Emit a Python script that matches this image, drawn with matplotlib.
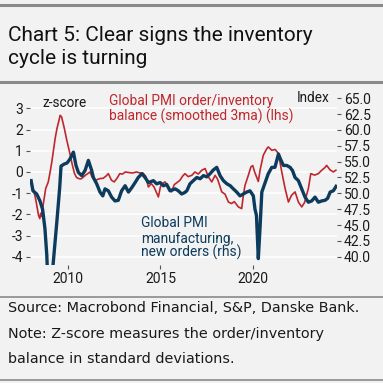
import matplotlib
matplotlib.use("Agg")
import matplotlib.pyplot as plt
from matplotlib.lines import Line2D

plt.rcParams['font.family'] = ['Roboto', 'DejaVu Sans']
plt.rcParams['axes.unicode_minus'] = False

# Global PMI order/inventory balance (z-score, smoothed 3ma), lhs
red_years = [2008.03, 2008.15, 2008.25, 2008.4, 2008.47, 2008.52, 2008.58, 2008.65, 2008.79, 2008.93,
             2009.05, 2009.12, 2009.3, 2009.4, 2009.5, 2009.57, 2009.65, 2009.8, 2009.93, 2010.1,
             2010.2, 2010.34, 2010.45, 2010.56, 2010.7, 2010.83, 2010.95, 2011.19, 2011.3, 2011.46,
             2011.6, 2011.75, 2011.9, 2012.05, 2012.18, 2012.35, 2012.5, 2012.65, 2012.8, 2012.95,
             2013.1, 2013.3, 2013.5, 2013.7, 2013.9, 2014.05, 2014.2, 2014.35, 2014.5, 2014.65,
             2014.89, 2015.0, 2015.1, 2015.25, 2015.4, 2015.6, 2015.75, 2015.9, 2016.06, 2016.2,
             2016.33, 2016.5, 2016.7, 2016.87, 2017.05, 2017.24, 2017.42, 2017.6, 2017.78, 2017.96,
             2018.1, 2018.32, 2018.5, 2018.68, 2018.85, 2019.0, 2019.22, 2019.4, 2019.49, 2019.58,
             2019.76, 2019.9, 2020.0, 2020.1, 2020.3, 2020.4, 2020.57, 2020.76, 2020.84, 2021.03,
             2021.21, 2021.39, 2021.57, 2021.75, 2021.93, 2022.1, 2022.29, 2022.47, 2022.65, 2022.8,
             2023.01, 2023.14, 2023.35, 2023.55, 2023.73, 2023.9, 2024.0, 2024.18, 2024.36, 2024.5]
red_values = [-0.55, -0.9, -1.3, -2.04, -2.2, -1.95, -2.1, -1.57, -0.78, -0.47,
              0.1, 0.47, 1.57, 2.05, 2.4, 2.67, 2.6, 2.05, 1.5, 0.87,
              0.45, -0.05, -0.25, -0.31, -0.33, -0.24, -0.15, 0.0, -0.24, -0.42,
              -0.35, -0.31, -0.3, -0.2, -0.08, -0.39, -0.47, -0.3, -0.08, -0.1,
              0.0, -0.03, -0.05, 0.0, -0.05, -0.05, -0.2, -0.71, -0.55, -0.7,
              -1.18, -0.7, -0.55, -0.47, -0.65, -0.94, -0.6, -0.5, -0.39, -0.2,
              -0.08, -0.22, -0.16, 0.0, -0.1, 0.08, 0.16, -0.24, -0.47, -0.16,
              -0.35, -0.94, -1.05, -1.42, -1.49, -1.4, -1.65, -1.73, -1.1, -0.63,
              -0.16, 0.24, 0.3, 0.0, -0.45, 0.1, 0.79, 1.1, 1.18, 1.02,
              1.06, 0.87, 0.0, -0.78, -1.42, -1.1, -0.94, -1.42, -1.65, -1.45,
              -0.78, -0.08, -0.15, -0.08, 0.08, 0.2, 0.31, 0.1, 0.0, 0.08]

# Global PMI manufacturing, new orders (index), rhs
blue_years = [2008.0, 2008.1, 2008.3, 2008.48, 2008.62, 2008.75, 2008.85, 2008.92, 2009.0, 2009.1,
              2009.2, 2009.39, 2009.55, 2009.62, 2009.78, 2009.95, 2010.1, 2010.29, 2010.43, 2010.56,
              2010.74, 2010.92, 2011.1, 2011.28, 2011.37, 2011.55, 2011.73, 2011.88, 2012.0, 2012.18,
              2012.36, 2012.54, 2012.72, 2012.9, 2013.09, 2013.27, 2013.45, 2013.63, 2013.8, 2014.0,
              2014.17, 2014.35, 2014.62, 2014.8, 2014.98, 2015.16, 2015.34, 2015.52, 2015.8, 2015.97,
              2016.15, 2016.3, 2016.43, 2016.6, 2016.78, 2016.97, 2017.15, 2017.33, 2017.51, 2017.69,
              2017.87, 2018.05, 2018.23, 2018.41, 2018.6, 2018.78, 2018.95, 2019.13, 2019.31, 2019.49,
              2019.67, 2019.85, 2020.03, 2020.12, 2020.2, 2020.3, 2020.39, 2020.49, 2020.67, 2020.84,
              2021.03, 2021.2, 2021.3, 2021.39, 2021.5, 2021.66, 2021.84, 2022.02, 2022.15, 2022.29,
              2022.47, 2022.65, 2022.83, 2023.01, 2023.19, 2023.37, 2023.55, 2023.73, 2023.91, 2024.05,
              2024.19, 2024.36, 2024.51]
blue_values = [52.0, 50.4, 49.9, 48.8, 47.5, 44.4, 40.2, 35.0, 33.0, 35.5,
               39.1, 45.4, 51.0, 54.3, 54.6, 54.8, 55.4, 56.5, 54.4, 53.3,
               52.8, 53.6, 55.2, 53.6, 52.5, 51.5, 50.2, 49.6, 50.7, 50.4,
               49.4, 48.8, 48.9, 50.4, 51.2, 50.2, 50.9, 51.7, 52.5, 53.1,
               52.5, 51.7, 52.0, 51.5, 51.7, 51.2, 51.4, 50.4, 50.7, 50.4,
               49.9, 50.1, 50.4, 51.5, 52.0, 52.5, 52.3, 52.8, 52.6, 53.1,
               53.7, 54.1, 52.8, 52.0, 51.5, 51.2, 50.7, 50.2, 49.6, 49.9,
               50.2, 50.4, 49.6, 47.5, 46.5, 39.7, 44.4, 50.2, 51.7, 53.1,
               54.1, 54.1, 55.2, 56.2, 55.4, 54.4, 54.4, 54.1, 53.6, 52.5,
               52.0, 50.7, 49.4, 48.6, 48.8, 49.4, 48.6, 48.8, 48.9, 49.2,
               50.2, 50.4, 51.1]

left_ticks = [3, 2, 1, 0, -1, -2, -3, -4]
right_ticks = [40.0, 42.5, 45.0, 47.5, 50.0, 52.5, 55.0, 57.5, 60.0, 62.5, 65.0]
x_ticks = [2010, 2015, 2020]

BG = '#f2f2f2'
RED = '#c0272d'
BLUE = '#0d3b5e'
W, H = 383, 383

fig = plt.figure(figsize=(W / 100, H / 100), dpi=100, facecolor=BG)

def fx(px):
    return px / W

def fy(py):
    return 1 - py / H

# frame lines
for y, lw in [(5, 2.2), (82, 2.2), (297, 1.2), (380, 1.2)]:
    fig.add_artist(Line2D([0, 1], [fy(y), fy(y)], color='#8a8a8a', lw=lw, transform=fig.transFigure))

fig.text(fx(8), fy(41), 'Chart 5: Clear signs the inventory', fontsize=15,
         color='#111111', va='baseline')
fig.text(fx(8), fy(64), 'cycle is turning', fontsize=15,
         color='#111111', va='baseline')

foot = ['Source: Macrobond Financial, S&P, Danske Bank.',
        'Note: Z-score measures the order/inventory',
        'balance in standard deviations.']
for t, y in zip(foot, [312, 338, 363]):
    fig.text(fx(8), fy(y), t, fontsize=10.4, family='DejaVu Sans', color='#1a1a1a', va='baseline')

L, R, T, B = 30, 337, 95, 265
ax = fig.add_axes([fx(L), fy(B), fx(R) - fx(L), fy(T) - fy(B)])
ax.set_facecolor(BG)
ax.set_xlim(2007.94, 2024.56)
ax.set_ylim(-4.39, 3.63)
for s in ax.spines.values():
    s.set_visible(False)
ax.set_yticks(left_ticks)
ax.set_yticklabels([str(v) for v in left_ticks])
ax.set_xticks(x_ticks)
ax.set_xticklabels([str(v) for v in x_ticks])
ax.tick_params(axis='both', labelsize=10, length=3, width=0.8, color='#555555', labelcolor='#1a1a1a', pad=2)
ax.grid(axis='y', color='white', lw=1.1)
ax.set_axisbelow(True)
ax.plot(red_years, red_values, color=RED, lw=1.2, zorder=3)

ax2 = ax.twinx()
for s in ax2.spines.values():
    s.set_visible(False)
ax2.set_ylim(38.69, 65.52)
ax2.set_yticks(right_ticks)
ax2.set_yticklabels([f'{v:.1f}' for v in right_ticks])
ax2.tick_params(axis='y', labelsize=10, length=3, width=0.8, color='#555555', labelcolor='#1a1a1a', pad=2)
ax2.plot(blue_years, blue_values, color=BLUE, lw=2.4, zorder=4)

fig.text(fx(42), fy(107), 'z-score', fontsize=9.8, color='#1a1a1a', va='baseline')
fig.text(fx(330), fy(102), 'Index', fontsize=9.8, color='#1a1a1a', va='baseline', ha='right')
fig.text(fx(109), fy(105), 'Global PMI order/inventory', fontsize=9.9, color=RED, va='baseline')
fig.text(fx(109), fy(121), 'balance (smoothed 3ma) (lhs)', fontsize=9.9, color=RED, va='baseline')
fig.text(fx(141), fy(227), 'Global PMI', fontsize=9.9, color=BLUE, va='baseline')
fig.text(fx(141), fy(243), 'manufacturing,', fontsize=9.9, color=BLUE, va='baseline')
fig.text(fx(141), fy(257), 'new orders (rhs)', fontsize=9.9, color=BLUE, va='baseline')

fig.savefig('out.png', dpi=100, facecolor=BG)
